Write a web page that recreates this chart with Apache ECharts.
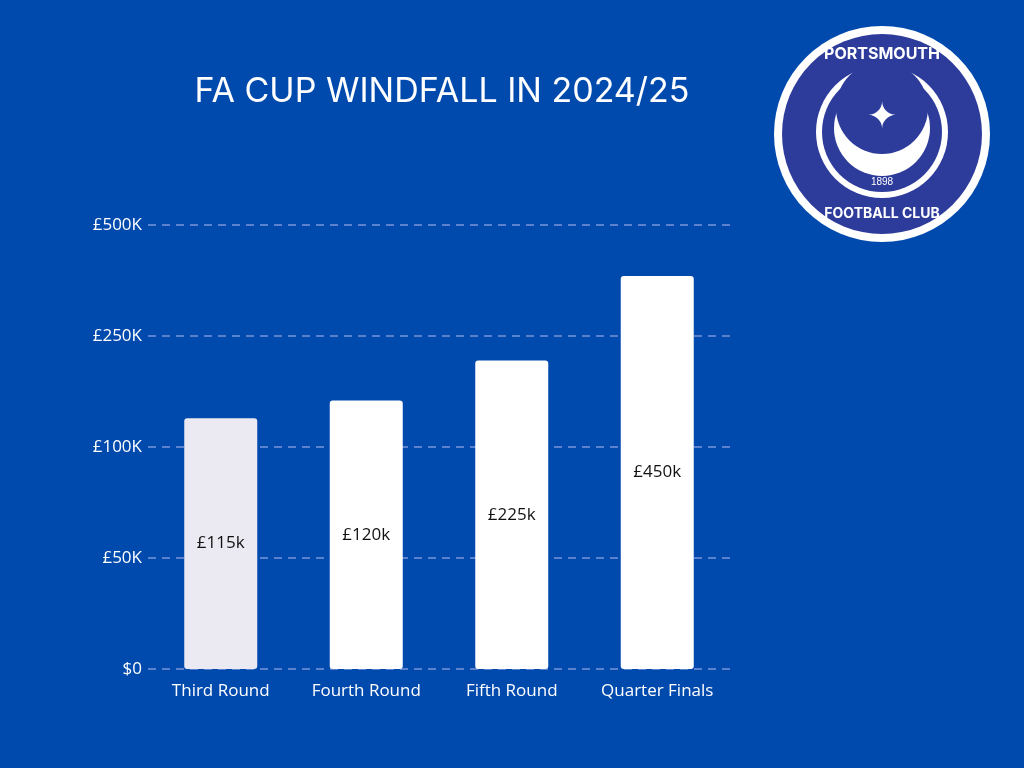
<!DOCTYPE html>
<html><head><meta charset="utf-8">
<script src="https://cdn.jsdelivr.net/npm/echarts@6/dist/echarts.min.js"></script>
<style>html,body{margin:0;padding:0;background:#0049ad}#c{width:1024px;height:768px}</style>
</head><body><div id="c"></div>
<script>
const categories = ['Third Round','Fourth Round','Fifth Round','Quarter Finals'];
const barLabels = ['£115k','£120k','£225k','£450k'];
// bar heights in axis-position units (axis ticks are evenly spaced, non-linear labels)
const barPositions = [2.26, 2.42, 2.78, 3.54];
const tickLabels = ['$0','£50K','£100K','£250K','£500K'];
const barColors = ['#ebeaf2','#ffffff','#ffffff','#ffffff'];

const chart = echarts.init(document.getElementById('c'));
chart.setOption({
  backgroundColor:'#0049ad',
  title:{text:'FA CUP WINDFALL IN 2024/25',left:437,top:70,textAlign:'center',
    textStyle:{color:'#fff',fontSize:34,fontWeight:'normal',fontFamily:'Inter'}},
  grid:{left:148,right:294,top:225,bottom:99},
  xAxis:{type:'category',data:categories,axisLine:{show:false},axisTick:{show:false},
    axisLabel:{color:'#fff',fontSize:17,fontFamily:'Open Sans',margin:14,interval:0}},
  yAxis:{type:'value',min:0,max:4,interval:1,
    axisLabel:{color:'#fff',fontSize:17,fontFamily:'Open Sans',margin:6,
      formatter:v=>tickLabels[v]},
    splitLine:{lineStyle:{color:'#5b82cf',type:[8,6],width:2}}},
  series:[{type:'bar',barWidth:73,
    data:barPositions.map((v,i)=>({value:v,itemStyle:{color:barColors[i],borderRadius:3}})),
    label:{show:true,position:'inside',color:'#111',fontSize:17,fontFamily:'Open Sans',
      formatter:p=>barLabels[p.dataIndex]}}],
  graphic:[
    {type:'circle',shape:{cx:882,cy:134,r:108},style:{fill:'#fff'}},
    {type:'circle',shape:{cx:882,cy:134,r:100},style:{fill:'#2d3c9b'}},
    {type:'circle',shape:{cx:882,cy:132,r:66},style:{fill:'#fff'}},
    {type:'circle',shape:{cx:882,cy:132,r:60},style:{fill:'#2d3c9b'}},
    {type:'circle',shape:{cx:882,cy:128,r:48},style:{fill:'#fff'}},
    {type:'circle',shape:{cx:882,cy:108,r:46},style:{fill:'#2d3c9b'}},
    {type:'text',x:882,y:118,style:{text:'✦',fill:'#fff',fontSize:36,align:'center',verticalAlign:'middle'}},
    {type:'text',x:882,y:54,style:{text:'PORTSMOUTH',fill:'#fff',fontSize:16,fontWeight:'bold',align:'center',verticalAlign:'middle',fontFamily:'Inter'}},
    {type:'text',x:882,y:214,style:{text:'FOOTBALL CLUB',fill:'#fff',fontSize:14,fontWeight:'bold',align:'center',verticalAlign:'middle',fontFamily:'Inter'}},
    {type:'text',x:882,y:182,style:{text:'1898',fill:'#fff',fontSize:10,align:'center',verticalAlign:'middle'}}
  ]
});
</script></body></html>
